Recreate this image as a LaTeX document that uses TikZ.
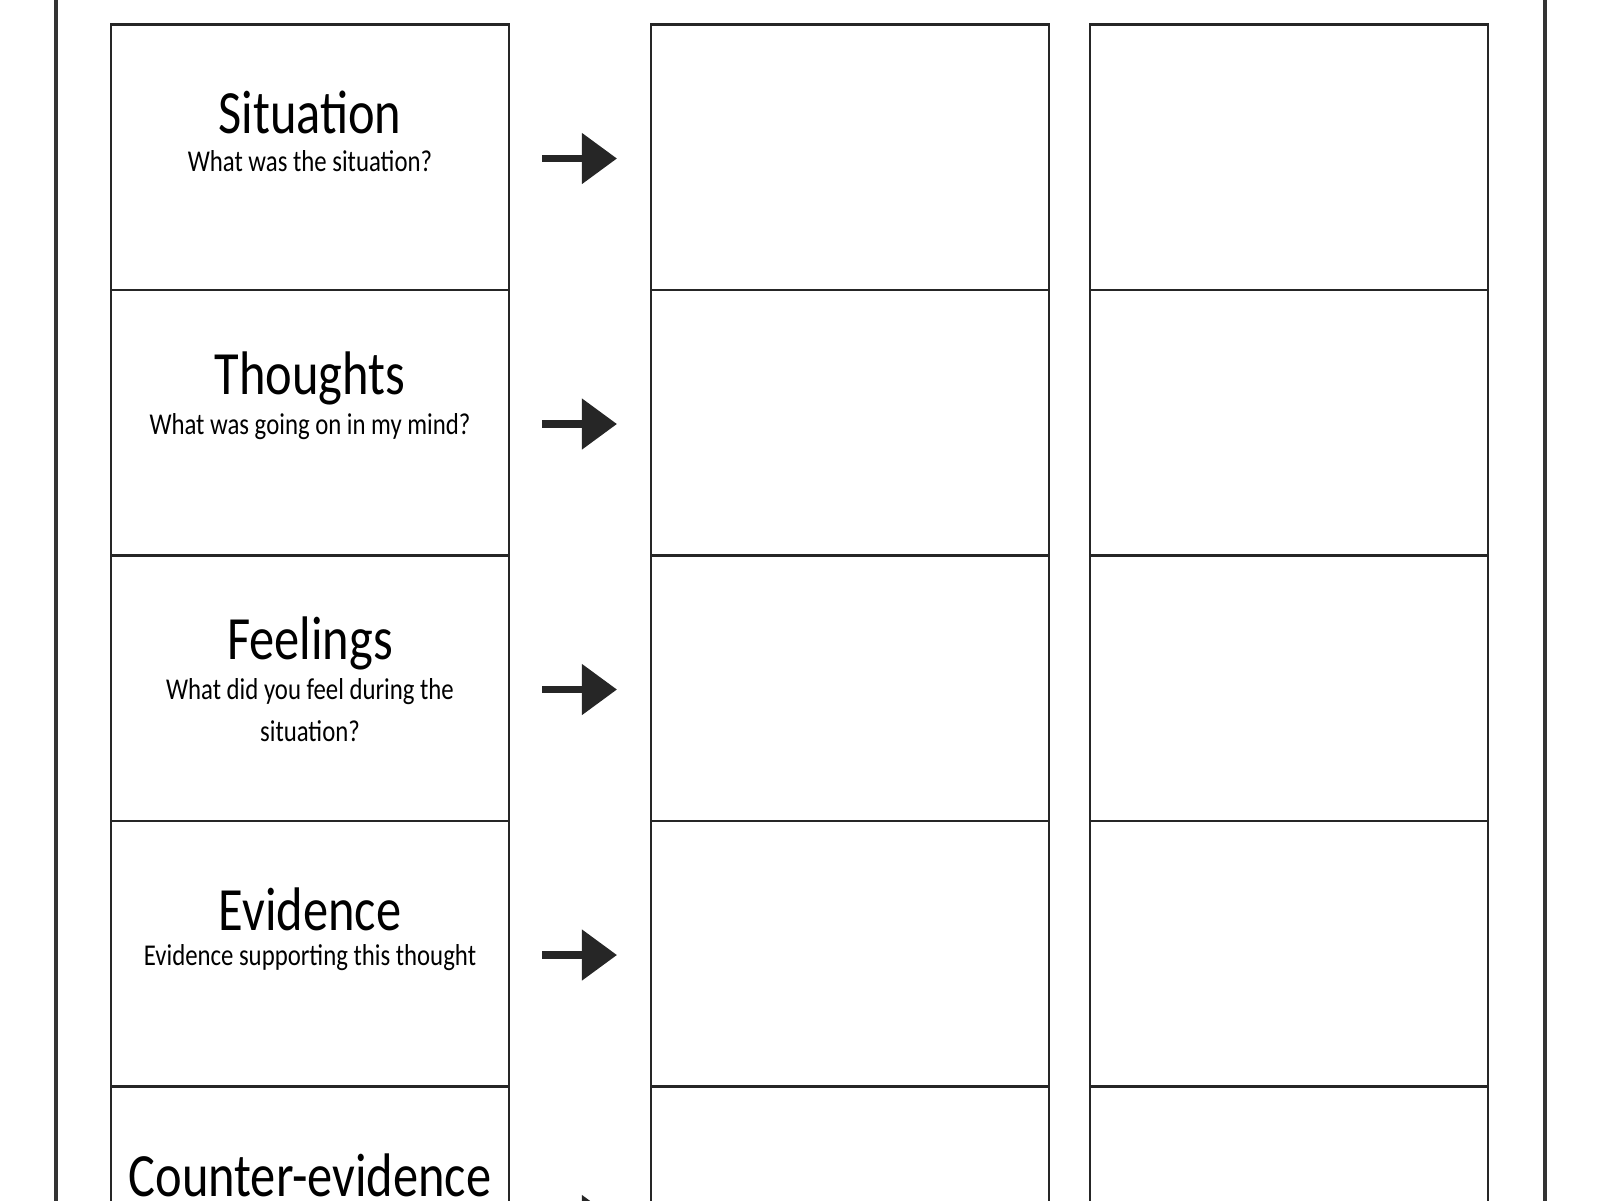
\documentclass[tikz,border=0pt]{standalone}
\usepackage{fontspec}
\setmainfont{Carlito}[FakeStretch=0.82]
\usetikzlibrary{arrows.meta}
\tikzset{
  cell/.style={draw=black!85, line width=0.6pt},
  head/.style={font=\fontsize{17.5}{20}\selectfont, inner sep=0pt},
  sub/.style={font=\fontsize{8.6}{12}\selectfont, inner sep=0pt, align=center},
  flow/.style={-{Triangle[angle=60:9pt 1, length=10pt, width=14pt]}, line width=2.2pt, black!85}
}
\begin{document}
\begin{tikzpicture}
        \useasboundingbox (0,0) rectangle (16,-12);
        \clip (0,0) rectangle (16,-12);
        % outer frame
        \draw[line width=1pt, black!80] (0.56, 1) -- (0.56, -13);
        \draw[line width=1pt, black!80] (15.45, 1) -- (15.45, -13);

        % grid of cells
        \foreach \r in {0,...,4} {
            \pgfmathsetmacro{\top}{-0.245-2.655*\r}
            \pgfmathsetmacro{\bot}{\top-2.655}
            \draw[cell] (1.11, \top) rectangle (5.09, \bot);
            \draw[cell] (6.51, \top) rectangle (10.49, \bot);
            \draw[cell] (10.90, \top) rectangle (14.88, \bot);
            % arrow
            \coordinate (from\r) at (5.42, \top-1.34);
            \coordinate (to\r) at (6.17, \top-1.34);
            \draw[flow] (from\r) -- (to\r);
        }

        % labels
        \node[head] (situation) at (3.10, -1.125) {Situation};
        \node[sub] (situationq) at (3.10, -1.61) {What was the situation?};

        \node[head] (thoughts) at (3.10, -3.78) {Thoughts};
        \node[sub] (thoughtsq) at (3.10, -4.27) {What was going on in my mind?};

        \node[head] (feelings) at (3.10, -6.43) {Feelings};
        \node[sub] (feelingsq) at (3.10, -7.10) {What did you feel during the\\situation?};

        \node[head] (evidence) at (3.10, -9.09) {Evidence};
        \node[sub] (evidenceq) at (3.10, -9.58) {Evidence supporting this thought};

        \node[head] (counter) at (3.10, -11.75) {Counter-evidence};
\end{tikzpicture}
\end{document}
